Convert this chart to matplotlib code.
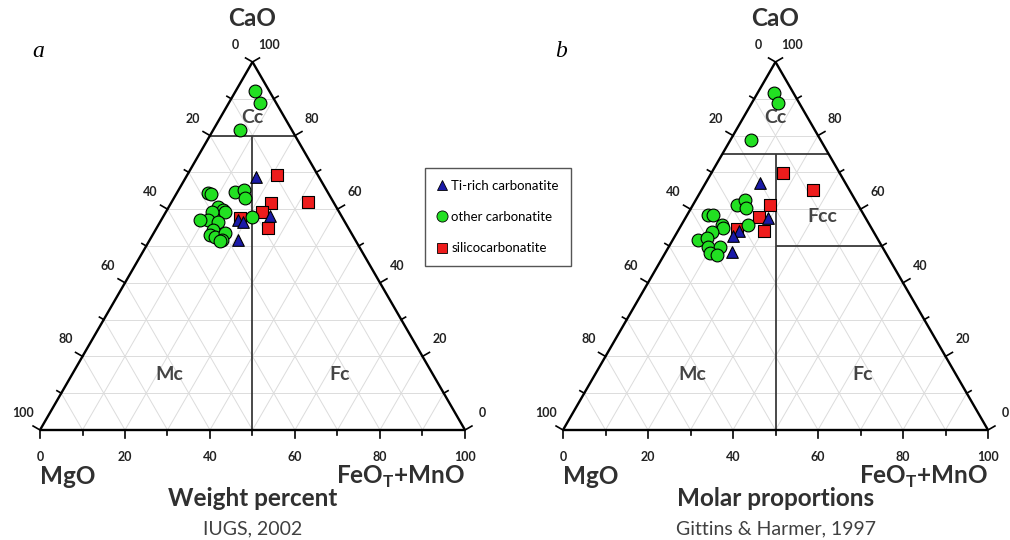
import numpy as np
import matplotlib.pyplot as plt
from matplotlib.lines import Line2D

plt.rcParams['font.family'] = ['Lato', 'DejaVu Sans']

# ternary data: CaO and FeOT+MnO in percent (MgO = rest)
# panel a - weight percent
a_ti_cao = [68.8, 57.1, 56.5, 58.2, 51.6]
a_ti_fe = [16.4, 18.1, 19.5, 25.0, 20.8]
a_oth_cao = [92.1, 88.9, 81.5, 64.4, 64.1, 64.7, 65.2, 63.0, 60.6, 59.8, 59.2, 59.2,
             57.1, 57.1, 56.5, 54.3, 53.0, 52.4, 53.5, 51.6, 57.9, 51.4]
a_oth_fe = [4.5, 7.3, 6.3, 7.3, 8.2, 13.5, 15.4, 16.7, 11.6, 13.2, 13.9, 10.9,
            11.0, 9.1, 13.6, 13.5, 13.5, 15.0, 16.8, 17.0, 20.9, 16.7]
a_sil_cao = [69.3, 62.0, 61.7, 59.2, 57.6, 54.9]
a_sil_fe = [21.1, 32.1, 23.5, 22.6, 18.3, 26.2]

# panel b - molar proportions
b_ti_cao = [67.1, 57.6, 54.1, 52.7, 48.4]
b_ti_fe = [12.8, 19.4, 14.4, 13.6, 15.6]
b_oth_cao = [91.6, 88.9, 78.8, 61.1, 62.5, 60.3, 55.7, 58.4, 58.4, 55.7, 54.9, 53.8,
             51.6, 52.2, 49.7, 49.7, 48.1, 47.6]
b_oth_fe = [3.9, 6.2, 4.8, 10.4, 11.6, 12.9, 15.7, 4.9, 6.1, 9.6, 10.2, 8.2,
            5.9, 7.8, 9.3, 12.1, 10.5, 12.5]
b_sil_cao = [69.8, 65.2, 61.1, 57.9, 54.6, 54.1]
b_sil_fe = [16.8, 26.2, 18.1, 17.2, 13.6, 20.3]

ticks = [0, 10, 20, 30, 40, 50, 60, 70, 80, 90, 100]

H = np.sqrt(3) / 2
PX = 425.0  # pixels per triangle side


def tern(cao, fe):
    cao = np.asarray(cao, float) / 100
    fe = np.asarray(fe, float) / 100
    return fe + cao / 2, cao * H


def seg(ax, p, q, **kw):
    x1, y1 = tern(*p)
    x2, y2 = tern(*q)
    ax.plot([x1, x2], [y1, y2], solid_capstyle='butt', **kw)


def panel(ax, letter, title, source, ti, oth, sil, fields, labels):
    grid = dict(color='#dcdcdc', lw=0.7, zorder=1)
    for v in ticks[1:-1]:
        seg(ax, (v, 0), (v, 100 - v), **grid)
        seg(ax, (0, v), (100 - v, v), **grid)
        seg(ax, (0, 100 - v), (100 - v, 0), **grid)
    for p, q in fields:
        seg(ax, p, q, color='#3a3a3a', lw=1.3, zorder=2)
    edge = dict(color='black', lw=1.7, zorder=3)
    seg(ax, (0, 0), (0, 100), **edge)
    seg(ax, (0, 0), (100, 0), **edge)
    seg(ax, (100, 0), (0, 100), **edge)

    tk = dict(color='black', lw=1.2, zorder=3)
    lab = dict(fontsize=9, fontweight='bold', color='#222222', ha='center', va='center')
    for v in ticks:
        L = (8 if v % 20 == 0 else 5) / PX
        # bottom axis FeOT+MnO
        x, y = tern(0, v)
        ax.plot([x, x], [y, y - L], **tk)
        if v % 20 == 0:
            ax.text(x, y - 27 / PX, str(v), **lab)
        # left axis MgO
        x, y = tern(100 - v, 0)
        ax.plot([x, x - 0.866 * L], [y, y + 0.5 * L], **tk)
        if v % 20 == 0:
            ax.text(x - 17 / PX, y + 17 / PX, str(v), **lab)
        # right axis CaO
        x, y = tern(v, 100 - v)
        ax.plot([x, x + 0.866 * L], [y, y + 0.5 * L], **tk)
        if v % 20 == 0:
            ax.text(x + 17 / PX, y + 17 / PX, str(v), **lab)

    mk = dict(edgecolors='black', linewidths=0.8, zorder=5)
    ax.scatter(*tern(*sil), marker='s', s=72, c='#ee1c1c', **mk)
    ax.scatter(*tern(*oth), marker='o', s=85, c='#22e022', **mk)
    ax.scatter(*tern(*ti), marker='^', s=70, c='#1a1aa8', **mk)

    reg = dict(fontsize=14, fontweight='bold', color='#444444', ha='center', va='center')
    for txt, c, f in labels:
        ax.text(*tern(c, f), txt, **reg)

    big = dict(fontsize=17.5, fontweight='bold', color='#303030')
    ax.text(0.5, 411 / PX, 'CaO', ha='center', va='center', **big)
    ax.text(0, -47 / PX, 'MgO', ha='left', va='center', **big)
    ax.text(1, -47 / PX, r'FeO$_\mathregular{T}$+MnO', ha='right', va='center', **big)
    ax.text(0.5, -69 / PX, title, ha='center', va='center', **big)
    ax.text(0.5, -99 / PX, source, ha='center', va='center', fontsize=14, color='#404040')
    ax.text(-0.005, 378 / PX, letter, ha='center', va='center', fontsize=17,
            style='italic', family='Liberation Serif')


fig = plt.figure(figsize=(10.1, 5.4), dpi=100)
ax1 = fig.add_axes([0, 0, 0.5, 1])
ax1.set_xlim(-40 / PX, 465 / PX)
ax2 = fig.add_axes([0.5, 0, 0.5, 1])
ax2.set_xlim(-58 / PX, 447 / PX)
for ax in (ax1, ax2):
    ax.set_ylim(-110 / PX, 430 / PX)
    ax.axis('off')

panel(ax1, 'a', 'Weight percent', 'IUGS, 2002',
      (a_ti_cao, a_ti_fe), (a_oth_cao, a_oth_fe), (a_sil_cao, a_sil_fe),
      [((80, 0), (80, 20)), ((80, 10), (0, 50))],
      [('Cc', 85, 7.5), ('Mc', 15, 23), ('Fc', 15, 63)])
panel(ax2, 'b', 'Molar proportions', 'Gittins & Harmer, 1997',
      (b_ti_cao, b_ti_fe), (b_oth_cao, b_oth_fe), (b_sil_cao, b_sil_fe),
      [((75, 0), (75, 25)), ((75, 12.5), (0, 50)), ((50, 25), (50, 50))],
      [('Cc', 85, 7.5), ('Fcc', 58, 32), ('Mc', 15, 23), ('Fc', 15, 63)])

handles = [
    Line2D([], [], ls='none', marker='^', ms=7, mfc='#1a1aa8', mec='black', mew=0.6),
    Line2D([], [], ls='none', marker='o', ms=8, mfc='#22e022', mec='black', mew=0.6),
    Line2D([], [], ls='none', marker='s', ms=7, mfc='#ee1c1c', mec='black', mew=0.6),
]
leg = fig.legend(handles, ['Ti-rich carbonatite', 'other carbonatite', 'silicocarbonatite'],
                 loc='upper left', bbox_to_anchor=(425 / 1010, 1 - 168 / 540),
                 fontsize=9.5, fancybox=False, framealpha=1, edgecolor='#555555',
                 handlelength=0.8, handletextpad=0.3, labelspacing=1.45, borderpad=0.9,
                 borderaxespad=0)
leg.get_frame().set_linewidth(1.0)

fig.savefig('out.png', dpi=100)
